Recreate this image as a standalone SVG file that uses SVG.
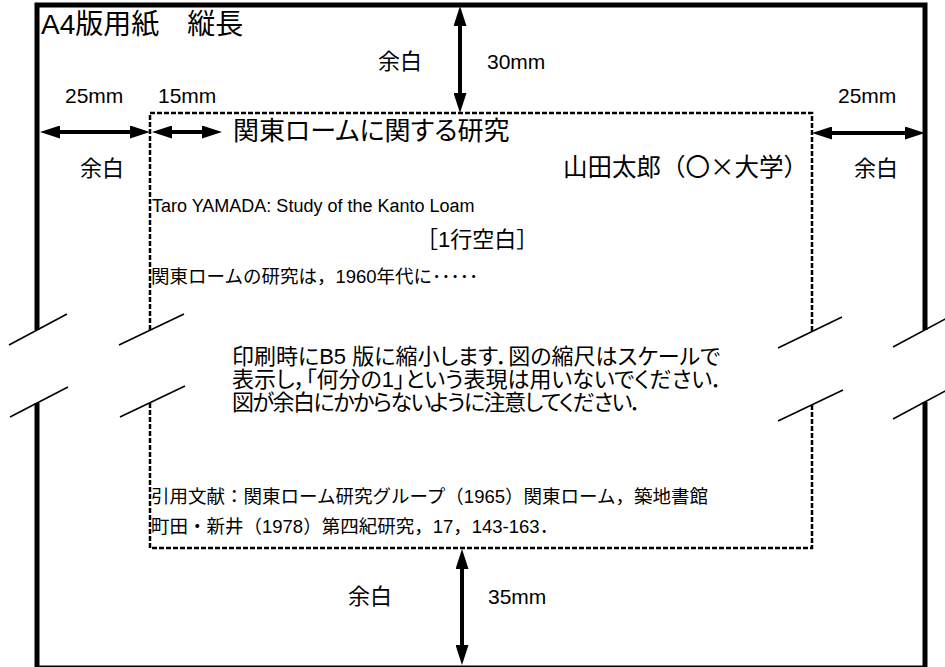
<svg xmlns="http://www.w3.org/2000/svg" width="945" height="667" viewBox="0 0 945 667">
<style>
text { font-family: "Liberation Sans", "Noto Sans CJK JP", sans-serif; fill: #000; }
.p { font-feature-settings: "palt"; }
.cjk { font-family: "Noto Sans CJK JP", sans-serif; }
.page { stroke: #000; stroke-width: 5; fill: none; }
.area { stroke: #000; stroke-width: 2.5; stroke-dasharray: 5 2; fill: none; }
.brk { stroke: #000; stroke-width: 1.6; fill: none; }
.arr { stroke: #000; stroke-width: 4; fill: none; marker-start: url(#ah); marker-end: url(#ah); }
.lbl { font-size: 22px; }
.mm { font-size: 21px; }
.body { font-size: 18.5px; }
.note { font-size: 22px; font-feature-settings: "palt"; }
</style>
<defs>
<marker id="ah" viewBox="0 0 20 13" refX="12" refY="6.5" markerWidth="20" markerHeight="13" orient="auto-start-reverse" markerUnits="userSpaceOnUse">
<path d="M0,0 L20,6.5 L0,13 z" fill="#000"/>
</marker>
</defs>
<rect width="945" height="667" fill="#fff"/>

<g id="page">
<path class="page" d="M37,330 L37,5 L925,5 L925,330 M37,403 L37,668 L925,668 L925,402"/>
</g>

<g id="text-area">
<path class="area" d="M150,330 L150,113 L812,113 L812,331 M150,403 L150,548 L812,548 L812,405"/>
</g>

<g id="break-marks">
<line class="brk" x1="9" y1="345" x2="67" y2="314"/>
<line class="brk" x1="10" y1="417" x2="68" y2="387"/>
<line class="brk" x1="119" y1="345" x2="184" y2="314"/>
<line class="brk" x1="120" y1="417" x2="185" y2="386"/>
<line class="brk" x1="778" y1="348" x2="842" y2="317"/>
<line class="brk" x1="778" y1="421" x2="843" y2="390"/>
<line class="brk" x1="893" y1="347" x2="947" y2="318"/>
<line class="brk" x1="893" y1="419" x2="947" y2="390"/>
</g>

<g id="connectors">
<line class="arr" x1="460" y1="14" x2="460" y2="105"/>
<line class="arr" x1="48" y1="132" x2="142" y2="132"/>
<line class="arr" x1="160" y1="132" x2="214" y2="132"/>
<line class="arr" x1="820" y1="133" x2="917" y2="133"/>
<line class="arr" x1="462" y1="557" x2="462" y2="657"/>
</g>

<g id="title-label"><text x="41" y="34" style="font-size:28px">A4版用紙　縦長</text></g>

<g id="margin-top">
<text class="lbl" x="378" y="69">余白</text>
<text class="mm" x="487" y="69">30mm</text>
</g>
<g id="margin-left">
<text class="mm" x="65" y="103">25mm</text>
<text class="lbl" x="80" y="176">余白</text>
</g>
<g id="indent">
<text class="mm" x="158" y="103">15mm</text>
</g>
<g id="margin-right">
<text class="mm" x="838" y="103">25mm</text>
<text class="lbl" x="854" y="176">余白</text>
</g>
<g id="margin-bottom">
<text class="lbl" x="348" y="604">余白</text>
<text class="mm" x="488" y="604">35mm</text>
</g>

<g id="content">
<text class="p" x="233" y="140" style="font-size:26px">関東ロームに関する研究</text>
<text x="563" y="176" style="font-size:24.5px">山田太郎（〇<tspan class="cjk">×</tspan>大学）</text>
<text x="152" y="212" style="font-size:18px">Taro YAMADA: Study of the Kanto Loam</text>
<text x="416" y="247" style="font-size:22px">［1行空白］</text>
<text class="body" x="151" y="283">関東ロームの研究は，1960年代に･････</text>
<text class="note" x="232" y="364">印刷時にB5 版に縮小します．図の縮尺はスケールで</text>
<text class="note" x="232" y="387">表示し，「何分の1」という表現は用いないでください．</text>
<text class="note" x="232" y="410" textLength="410" lengthAdjust="spacing">図が余白にかからないように注意してください．</text>
<text class="body" x="151" y="503">引用文献：関東ローム研究グループ（1965）関東ローム，築地書館</text>
<text class="body" x="151" y="533">町田・新井（1978）第四紀研究，17，143-163．</text>
</g>
</svg>
